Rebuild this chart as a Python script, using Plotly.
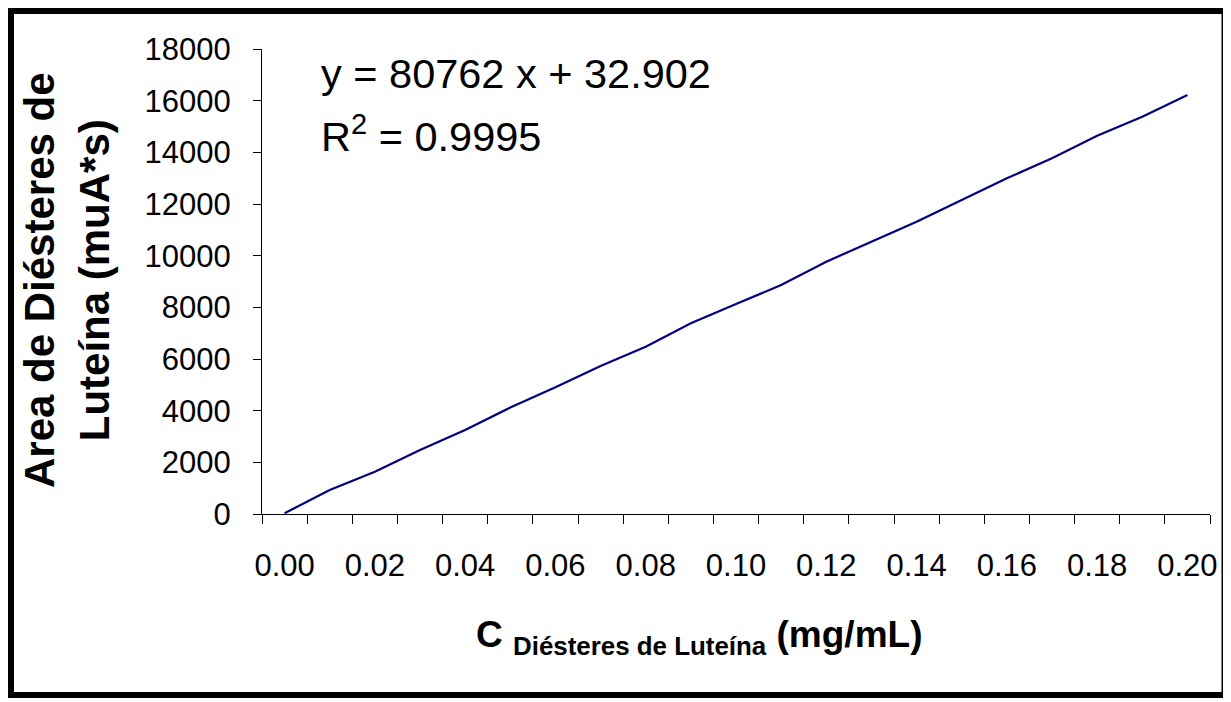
import plotly.graph_objects as go

# Data
concentration = [0.00, 0.01, 0.02, 0.03, 0.04, 0.05, 0.06, 0.07, 0.08, 0.09, 0.10,
                 0.11, 0.12, 0.13, 0.14, 0.15, 0.16, 0.17, 0.18, 0.19, 0.20]
area = [30, 929, 1637, 2477, 3251, 4120, 4904, 5729, 6477, 7381, 8128,
        8864, 9766, 10541, 11315, 12154, 12993, 13767, 14645, 15380, 16218]
x_tick_values = [0.00, 0.02, 0.04, 0.06, 0.08, 0.10, 0.12, 0.14, 0.16, 0.18, 0.20]
x_tick_labels = ["0.00", "0.02", "0.04", "0.06", "0.08", "0.10",
                 "0.12", "0.14", "0.16", "0.18", "0.20"]
y_tick_values = [0, 2000, 4000, 6000, 8000, 10000, 12000, 14000, 16000, 18000]
y_tick_labels = ["0", "2000", "4000", "6000", "8000", "10000",
                 "12000", "14000", "16000", "18000"]

FONT = "Liberation Sans, Arial, sans-serif"
OFF = 8  # page body margin
W, H = 1231 - OFF, 702 - OFF
PLOT_L, PLOT_R, PLOT_T, PLOT_B = 262, 1210, 49, 514  # absolute page px
L = PLOT_L - OFF
T = PLOT_T - OFF
R = W - (PLOT_R - OFF)
B = H - (PLOT_B - OFF)
PW, PH = W - L - R, H - T - B


def px_x(px):
    return (px - OFF - L) / PW


def px_y(py):
    return (H - B - (py - OFF)) / PH


fig = go.Figure()
fig.add_trace(go.Scatter(
    x=concentration, y=area, mode="lines",
    line=dict(color="#000080", width=2.2),
    showlegend=False, hoverinfo="x+y",
))

fig.update_layout(
    width=W, height=H,
    margin=dict(l=L, r=R, t=T, b=B),
    paper_bgcolor="white", plot_bgcolor="white",
    font=dict(family=FONT, color="black", size=31),
    xaxis=dict(
        range=[-0.005, 0.205],
        tickvals=x_tick_values, ticktext=x_tick_labels,
        ticks="", showline=True, linecolor="black", linewidth=1,
        showgrid=False, zeroline=False,
        tickfont=dict(size=31, family=FONT, color="black"),
        ticklabelstandoff=24,
        minor=dict(tick0=-0.005, dtick=0.01, ticks="outside", ticklen=9,
                   tickcolor="black", tickwidth=1, showgrid=False),
    ),
    yaxis=dict(
        range=[0, 18000], tickvals=y_tick_values, ticktext=y_tick_labels,
        ticks="outside", ticklen=8, tickcolor="black", tickwidth=1,
        showline=True, linecolor="black", linewidth=1,
        showgrid=False, zeroline=False,
        tickfont=dict(size=31, family=FONT, color="black"),
        ticklabelstandoff=16,
    ),
)

# Equation annotations
fig.add_annotation(
    xref="paper", yref="paper", x=px_x(319), y=px_y(74),
    xanchor="left", yanchor="middle", showarrow=False,
    text="y = 80762 x + 32.902",
    font=dict(size=41.5, family=FONT, color="black"),
)
fig.add_annotation(
    xref="paper", yref="paper", x=px_x(319), y=px_y(134),
    xanchor="left", yanchor="middle", showarrow=False,
    text="R<sup>2</sup> = 0.9995",
    font=dict(size=41.5, family=FONT, color="black"),
)

# Axis titles
fig.add_annotation(
    xref="paper", yref="paper", x=px_x(67), y=px_y(280),
    xanchor="center", yanchor="middle", showarrow=False, textangle=-90,
    text="<b>Area de Diésteres de<br>Luteína (muA*s)</b>",
    font=dict(size=42, family=FONT, color="black"),
)
fig.add_annotation(
    xref="paper", yref="paper", x=px_x(699), y=px_y(637),
    xanchor="center", yanchor="middle", showarrow=False,
    text="<b>C <sub>Diésteres de Luteína</sub> (mg/mL)</b>",
    font=dict(size=37, family=FONT, color="black"),
)

# Outer frame
fig.add_shape(
    type="rect", xref="paper", yref="paper",
    x0=px_x(OFF + 3), x1=px_x(1224.5), y0=px_y(695), y1=px_y(OFF + 3),
    line=dict(color="black", width=6), fillcolor="rgba(0,0,0,0)", layer="above",
)

fig.write_html("out.html")
